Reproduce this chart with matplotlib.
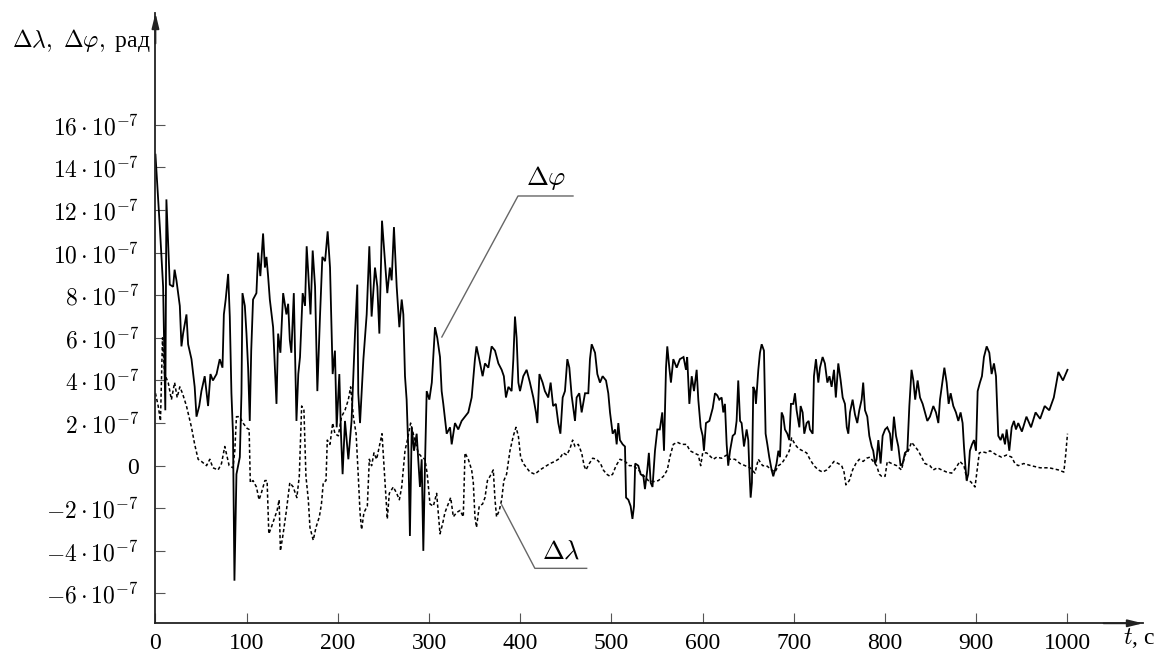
import matplotlib.pyplot as plt
import numpy as np

plt.rcParams['mathtext.fontset'] = 'cm'
plt.rcParams['font.family'] = ['Liberation Serif', 'DejaVu Serif']

# dphi, units of 1e-7 rad
t_phi = [0, 4.8, 8.4, 10.8, 12, 15.7, 19.4, 21, 23, 26.7, 28.5, 30.3, 34, 35.8, 39.5, 43, 45, 48, 50.4, 54,
         57.7, 60.3, 63, 67, 70.5, 73.5, 75, 77, 79.7, 81.5, 83.3, 85, 86.6, 88.8, 92.5, 94.3, 95.4, 98, 99.8,
         101.6, 103.4, 105, 107, 110.7, 112.6, 115, 118, 120, 121.7, 123.5, 125.4, 129, 131, 132.7, 134.5, 137,
         140, 143.6, 145.5, 147.3, 149, 151.7, 154.6, 156.6, 158.5, 161.4, 164, 165.8, 167.6, 170, 172.4, 175,
         177.5, 180.4, 183, 186, 188.8, 191.4, 194.3, 196.8, 198.7, 201.6, 203.4, 205.2, 207.8, 211.5, 215,
         218.8, 221.3, 222.4, 224.3, 228, 231.6, 234.5, 237, 240.7, 243.3, 245.5, 248.4, 251, 254.2, 257, 259,
         261.5, 264.5, 267.4, 270, 271.8, 273.6, 275.4, 277.3, 279, 281, 283.5, 286.4, 290, 291.9, 293.7, 295.5,
         297.4, 300.3, 303, 305, 306.5, 309, 312, 313.8, 315.6, 319.3, 323, 324.8, 328.4, 332, 335.7, 339.4, 343,
         346.7, 350.3, 352, 355, 358.7, 361.3, 365, 368.6, 372.3, 376, 379.6, 382, 384.3, 387, 390.5, 392.4,
         394.2, 396, 397.9, 399.7, 403.3, 407, 410.6, 414.3, 417.2, 418.7, 421, 424.5, 427, 430.7, 433.3, 436,
         439, 441.7, 444, 446.5, 449, 451.6, 453.8, 456.3, 460, 461.8, 464.7, 467.3, 471, 474.6, 476.4, 478.3,
         482, 484.5, 487.4, 490.3, 494, 496.5, 498.4, 501.3, 504, 505.7, 507.5, 509.3, 512.3, 514.8, 516, 518.5,
         521, 523, 524.7, 526, 529.4, 532, 535, 536.7, 539.3, 541, 543, 545, 547.7, 550.3, 553, 555.7, 557.6,
         559.8, 561.2, 563.4, 565.2, 567.8, 571.5, 575, 579, 581.7, 583, 585.4, 588, 590.5, 593.4, 595.2, 597.8,
         600, 601.4, 603.6, 607.3, 611, 613.5, 616, 618.2, 620.8, 622.6, 624.4, 626.3, 628, 630, 632.9, 635.4,
         637.2, 639, 641, 642.7, 645.3, 648.2, 650, 651, 652.6, 654, 655.5, 657.3, 658.4, 661, 662.8, 664.7,
         667.2, 669, 670.9, 673, 675.6, 677.4, 679.3, 681, 683, 684.8, 686.6, 688.4, 690.2, 692.8, 695, 696.8,
         699.4, 701.2, 703, 706, 707.4, 709.6, 711.4, 714, 716.2, 717.6, 720.6, 722, 724.2, 726.8, 728.6, 731.5,
         734, 736.7, 739, 741.4, 744, 746, 748.7, 751.3, 753.5, 756, 758, 759.7, 761.5, 764.4, 767, 769.5,
         771.7, 774.3, 776, 778, 780.5, 782.7, 785.3, 787, 789, 790.7, 792.6, 795.1, 797.3, 800, 802.4, 805.4,
         807.2, 809.7, 812, 814.5, 817, 819.3, 821.8, 824.4, 826.6, 829, 831, 833, 835.7, 838.3, 841.2, 843.7,
         846.3, 849.2, 852.9, 855.8, 858.4, 860.2, 863.1, 865, 867.5, 869.7, 871.9, 874.8, 877.7, 880.3, 882.8,
         885, 886.5, 888, 889.4, 891.2, 893, 895.3, 897.5, 899.7, 901.5, 904, 906.2, 908.4, 911.4, 914.3, 916.8,
         919.4, 921.6, 924.1, 926.7, 928.9, 931.5, 933.3, 936.2, 938.8, 941.3, 943.5, 946, 950, 955, 960, 965,
         970, 975, 980, 985, 990, 995, 1000]
phi = [14.6, 11.2, 8.4, 2.6, 12.5, 8.5, 8.4, 9.2, 8.7, 7.5, 5.6, 6.2, 7.1, 5.7, 5.0, 3.7, 2.3, 2.8, 3.5, 4.2,
       2.8, 4.3, 4.0, 4.3, 5.0, 4.6, 7.1, 7.8, 9.0, 7.0, 3.4, 1.5, -5.4, -0.4, 0.4, 3.4, 8.1, 7.5, 6.2,
       4.6, 2.1, 5.4, 7.8, 8.1, 10.0, 8.9, 10.9, 9.3, 9.8, 8.9, 7.8, 6.5, 4.6, 2.9, 6.2, 5.3,
       8.1, 7.1, 7.6, 5.9, 5.3, 8.1, 2.1, 4.3, 5.1, 8.1, 7.5, 10.3, 9.0, 7.1, 10.1, 8.4,
       3.5, 7.0, 9.8, 9.6, 11.0, 9.3, 4.3, 5.4, 1.8, 4.3, 1.5, -0.4, 2.1, 0.3, 2.1,
       6.2, 8.5, 3.4, 2.0, 5.0, 7.1, 10.3, 7.0, 9.3, 8.4, 6.2, 11.5, 10.0, 8.1, 9.3, 8.7,
       11.2, 8.4, 6.5, 7.8, 7.1, 4.2, 3.1, 0.7, -3.3, 1.8, 0.7, 1.5, -1.0, 0.3, -4.0, 0.0,
       3.5, 3.1, 3.9, 5.4, 6.5, 6.0, 5.1, 3.5, 2.9, 1.5, 1.8, 1.0, 2.0, 1.7, 2.1, 2.3, 2.5,
       3.2, 5.0, 5.6, 5.0, 4.2, 4.8, 4.6, 5.6, 5.4, 4.8, 4.5, 4.2, 3.2, 3.7, 3.5, 5.0,
       7.0, 6.0, 3.9, 3.5, 4.2, 4.5, 3.9, 3.2, 2.5, 2.0, 4.3, 3.9, 3.5, 3.2, 3.9, 2.8,
       2.9, 2.0, 1.5, 3.2, 3.5, 5.0, 4.6, 3.3, 2.1, 3.2, 3.4, 2.5, 3.4, 3.4, 5.0, 5.7,
       5.3, 4.3, 3.9, 4.2, 4.0, 3.4, 2.5, 1.5, 1.7, 1.0, 2.0, 1.2, 1.0, 0.9, -1.5, -1.6,
       -1.9, -2.5, -1.9, 0.1, 0.0, -0.4, -0.5, -1.1, -0.2, 0.6, -0.8, -1.0, 0.7, 1.7, 1.7, 2.5, 0.7,
       4.6, 5.6, 4.6, 3.9, 5.0, 4.6, 5.0, 5.1, 4.5, 5.1, 2.9, 4.2, 3.5, 4.5, 3.1, 1.8,
       1.4, 0.7, 2.0, 2.1, 2.7, 3.4, 3.3, 3.1, 3.2, 2.5, 2.9, 1.0, 0.0, 0.7, 1.4, 1.5,
       2.1, 4.0, 2.1, 2.0, 0.9, 1.7, 1.2, 0.0, -1.5, -0.8, 3.7, 3.5, 2.9, 4.5, 5.3, 5.7,
       5.4, 1.5, 1.0, 0.4, -0.2, -0.5, -0.2, 0.1, 0.7, 0.4, 2.5, 2.3, 1.7, 1.5, 1.2, 2.9,
       2.9, 3.4, 2.6, 1.8, 2.8, 2.5, 1.5, 2.0, 2.1, 1.7, 1.5, 4.2, 5.0, 3.9, 4.6, 5.1,
       4.8, 3.9, 4.2, 3.7, 4.5, 3.2, 4.8, 4.0, 3.2, 2.9, 1.8, 1.5, 2.5, 3.1, 2.4, 2.0,
       2.6, 3.1, 3.9, 2.6, 2.3, 1.4, 0.9, 0.7, 0.1, 0.3, 1.2, 0.1, 1.4, 1.7, 1.8, 1.5,
       0.7, 2.3, 1.4, 0.9, 0.0, 0.1, 0.6, 0.7, 2.8, 4.5, 4.0, 3.1, 4.0, 3.2, 2.9, 2.5,
       2.1, 2.3, 2.8, 2.5, 2.0, 3.1, 4.0, 4.6, 3.9, 2.9, 3.4, 2.8, 2.5, 2.1, 2.5,
       2.0, 0.9, 0.0, -0.7, -0.4, 0.7, 1.0, 1.2, 0.7, 3.5, 3.9, 4.2, 5.1, 5.6, 5.3, 4.3,
       4.8, 4.2, 1.4, 1.2, 1.5, 1.0, 1.7, 0.7, 1.8, 2.1, 1.7, 2.0, 1.6, 2.3, 1.8, 2.5,
       2.2, 2.8, 2.6, 3.2, 4.4, 4.0, 4.5]

# dlambda, units of 1e-7 rad
t_lam = [0, 3, 5.5, 7.7, 10, 14, 17.5, 21, 23.8, 26.7, 29.6, 34, 39.5, 43, 46.8, 50.4, 56, 59.6, 63, 68.7,
         72.4, 76, 78.6, 80.8, 85, 87, 88.8, 92.5, 96, 100.5, 102.7, 104, 107, 110.7, 113.6, 116, 120, 122.4,
         124.3, 127, 131, 133.4, 135.6, 137, 140, 143.6, 147.3, 151, 155, 157.7, 160.3, 162.8, 165, 167.6,
         169.4, 173, 176, 179.7, 182, 184, 187, 188.4, 191.4, 194.3, 196.8, 200.5, 204, 207.8, 211.5, 214, 217,
         220, 222.4, 224.3, 226, 228.6, 232.3, 234.5, 237, 239.6, 242.5, 245.5, 248.4, 250.6, 252.8, 254.2,
         256.4, 260.8, 264.5, 267.4, 270, 273.6, 276.2, 279.8, 282.7, 285.6, 288.2, 292, 295.5, 298, 301,
         304.7, 308.3, 312, 315, 317.4, 321, 323.7, 326.6, 330.2, 334, 337.5, 339.4, 343, 346.7, 348.5, 350.3,
         352, 355, 358.7, 361.3, 364, 366.8, 370.4, 372.3, 374, 377, 379.6, 382, 385, 388.7, 392.4, 395.3,
         397.9, 400.4, 403.3, 407, 410.6, 416, 421.6, 427, 432.6, 438, 443.5, 447, 451, 454.5, 457.4, 460,
         463.6, 467.3, 470, 472, 475.7, 479.4, 483.7, 488, 491, 494.7, 498.4, 501.3, 505, 509.3, 515, 519.6,
         524, 529.4, 535, 540.4, 546, 551.4, 557, 561.2, 564, 567.8, 572.2, 577, 582.4, 586, 590.5, 595.2,
         597.8, 600, 604.4, 608, 611.7, 615.3, 620.8, 626.3, 630, 635.4, 641, 646.4, 652, 657.3, 661, 665.7,
         670, 675.6, 679.3, 683, 686.6, 691.3, 695, 697.5, 701.2, 705, 709.6, 714, 717.6, 722, 726.8, 731.5,
         736, 740.3, 744, 748.7, 752.4, 755, 757, 760.8, 764.4, 768, 771.7, 776, 779.8, 783.4, 787, 790.7,
         793.7, 796.2, 800, 802.4, 807.2, 812.7, 818, 821.8, 825.5, 829, 832.8, 836.4, 840, 843.7, 849.2,
         852.9, 857.3, 862, 867.5, 873, 877.7, 882, 886.5, 890, 893.8, 898.6, 901, 903.3, 907, 911.4, 915,
         918.7, 922.3, 927.8, 933.3, 938.8, 942.4, 946, 952, 960, 970, 980, 990, 996, 998, 1000]
lam = [3.4, 2.8, 2.1, 6.0, 4.3, 3.9, 3.1, 3.9, 3.2, 3.7, 3.4, 2.8, 1.8, 1.0, 0.3, 0.2, 0.0, 0.3, -0.1, -0.2,
       0.1, 0.9, 0.4, 0.0, -0.1, 0.7, 2.3, 2.3, 2.0, 1.75, 1.7, -0.8, -0.7, -1.0, -1.6, -1.3, -0.7, -0.7,
       -3.2, -2.9, -2.4, -2.1, -1.6, -4.0, -3.2, -2.1, -0.8, -1.0, -1.5, -0.5, 2.8, 2.6, -0.5, -1.6,
       -2.9, -3.5, -2.9, -2.4, -1.8, -0.8, -0.7, 1.2, 1.0, 2.0, 1.5, 1.4, 2.3, 2.6, 3.1, 3.7, 2.3,
       1.5, -0.5, -2.2, -3.0, -2.2, -1.9, 0.3, 0.0, 0.6, 0.3, 0.9, 1.5, 0.0, -1.5, -2.5,
       -1.3, -1.0, -1.3, -1.6, -1.0, 0.7, 1.2, 2.0, 1.5, 1.0, 0.6, 0.4, 0.3, -0.4, -1.8,
       -1.9, -1.3, -3.2, -2.7, -2.2, -1.8, -1.5, -2.4, -2.2, -2.1, -2.4, 0.6, 0.3, -0.2, -0.8, -2.4,
       -2.9, -1.9, -1.8, -1.5, -0.7, -0.5, -0.2, -1.6, -2.4, -2.1, -1.6, -0.7, -0.4, 0.7, 1.4, 1.8,
       1.4, 0.4, 0.1, -0.1, -0.3, -0.4, -0.2, -0.05, 0.1, 0.2, 0.35, 0.6, 0.5, 0.8, 1.2, 0.9,
       1.0, 0.6, 0.0, -0.2, 0.1, 0.35, 0.3, 0.1, -0.2, -0.4, -0.5, -0.4, 0.0, 0.3, 0.2, 0.0,
       0.0, -0.2, -0.45, -0.7, -0.75, -0.7, -0.5, -0.2, 0.4, 1.0, 1.1, 1.0, 1.0, 0.7, 0.6, 0.5,
       0.0, 0.6, 0.6, 0.45, 0.3, 0.4, 0.35, 0.5, 0.3, 0.3, 0.1, 0.0, -0.1, -0.35, 0.3, 0.0,
       0.0, -0.2, -0.3, 0.0, 0.1, 0.4, 0.7, 1.3, 1.0, 0.8, 0.7, 0.6, 0.3, 0.0, -0.2, -0.3,
       -0.2, 0.0, 0.2, 0.1, 0.0, -0.3, -0.9, -0.7, -0.2, 0.1, 0.3, 0.2, 0.35, 0.4, 0.2, 0.0,
       -0.4, -0.5, -0.5, 0.2, 0.1, 0.0, -0.2, 0.5, 0.7, 1.1, 0.9, 0.7, 0.4, 0.1, 0.0,
       -0.2, -0.1, -0.2, -0.3, -0.35, -0.1, 0.2, 0.0, -0.7, -0.75, -1.0, -0.2, 0.6, 0.65, 0.6, 0.7,
       0.6, 0.5, 0.4, 0.5, 0.4, 0.1, 0.0, 0.1, 0.0, -0.1, -0.1, -0.2, -0.3, 0.5, 1.5]

x_ticks = [0, 100, 200, 300, 400, 500, 600, 700, 800, 900, 1000]
y_ticks = [-6, -4, -2, 0, 2, 4, 6, 8, 10, 12, 14, 16]
y_labels = ['0' if v == 0 else r'$%d \cdot 10^{-7}$' % v for v in y_ticks]

fig = plt.figure(figsize=(11.61, 6.57), dpi=100)
ax = fig.add_axes([0.1339, 0.0513, 0.8506, 0.9289])

ax.plot(t_phi, phi, color='black', lw=1.3, solid_joinstyle='miter')
ax.plot(t_lam, lam, color='black', lw=1.1, linestyle=(0, (2.2, 1.6)))

ax.set_xlim(0, 1082.8)
ax.set_ylim(-7.4, 21.25)

for s in ['top', 'right']:
    ax.spines[s].set_visible(False)
for s in ['left', 'bottom']:
    ax.spines[s].set_linewidth(1.3)
    ax.spines[s].set_color('#222222')

# axis arrows (narrow heads like the original)
arrow = dict(arrowstyle='-|>,head_length=0.9,head_width=0.22', color='#222222', lw=1.3,
             shrinkA=0, shrinkB=0)
ax.annotate('', xy=(1.0, 0), xytext=(0.96, 0), xycoords='axes fraction', arrowprops=arrow)
ax.annotate('', xy=(0, 1.0), xytext=(0, 0.95), xycoords='axes fraction', arrowprops=arrow)

ax.set_xticks(x_ticks)
ax.set_xticklabels([str(v) for v in x_ticks], fontsize=17)
ax.set_yticks(y_ticks)
ax.set_yticklabels(y_labels, fontsize=17)
ax.tick_params(direction='in', length=7, width=0.8, color='#555555')
ax.tick_params(axis='x', pad=7)
ax.tick_params(axis='y', pad=12)

# axis titles
fig.text(0.010, 0.939, r'$\Delta\lambda,\ \Delta\varphi,$ рад', fontsize=17, ha='left', va='center')
ax.text(1061, -8.1, r'$t$, с', fontsize=17, ha='left', va='center', clip_on=False)

# leader lines and curve labels
ax.plot([314, 397.5, 457.8], [6.04, 12.66, 12.66], color='#666666', lw=1.0)
ax.text(428, 12.85, r'$\Delta\varphi$', fontsize=19, ha='center', va='bottom')
ax.plot([379.6, 416, 472.8], [-1.84, -4.82, -4.82], color='#666666', lw=1.0)
ax.text(445, -4.62, r'$\Delta\lambda$', fontsize=19, ha='center', va='bottom')

fig.savefig('out.png', dpi=100)
